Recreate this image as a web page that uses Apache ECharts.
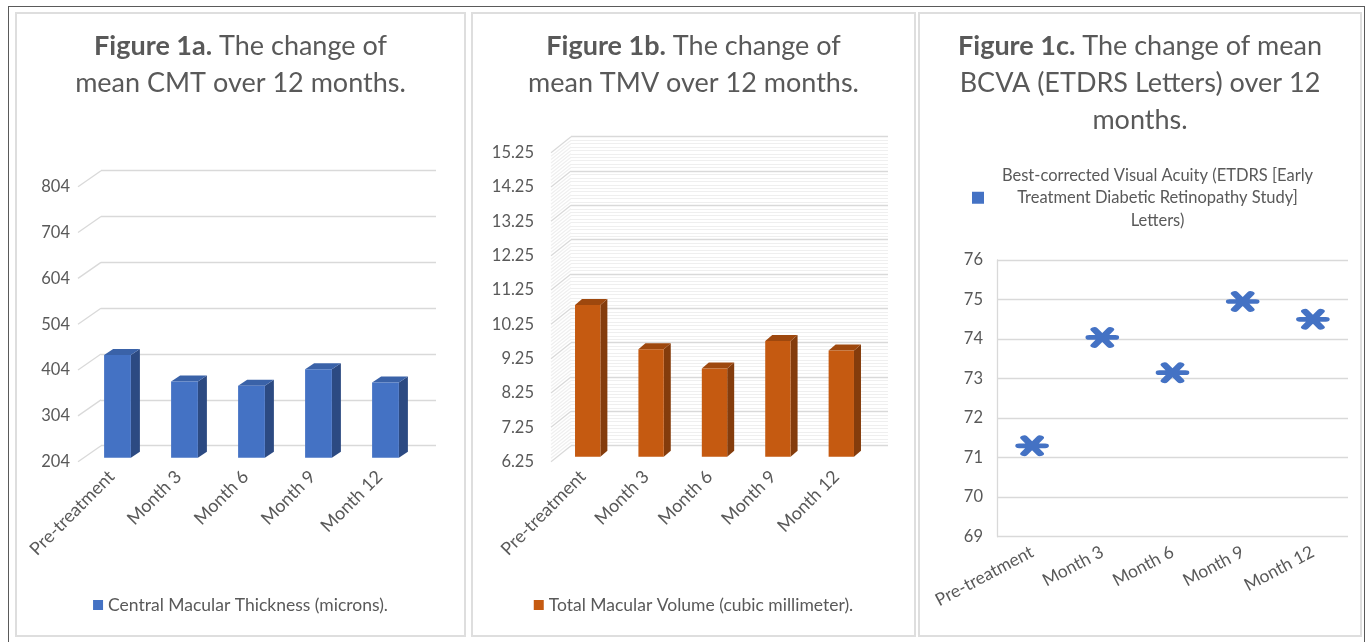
<!DOCTYPE html>
<html>
<head>
<meta charset="utf-8">
<script src="https://cdn.jsdelivr.net/npm/echarts@6/dist/echarts.min.js"></script>
<style>
  html, body { margin: 0; padding: 0; background: #fff; }
  body { width: 1372px; height: 642px; position: relative; overflow: hidden; }
  .frame { position: absolute; left: 8px; top: 6px; width: 1357px; height: 640px; border: 1.5px solid #5a5a5a; box-sizing: border-box; }
  .panel { position: absolute; top: 12px; height: 625px; border: 2px solid #dedede; box-sizing: border-box; }
  .chart { position: absolute; top: 12px; height: 625px; }
</style>
</head>
<body>
<div class="frame"></div>
<div class="panel" style="left:15px;width:451px"></div>
<div class="panel" style="left:471px;width:445px"></div>
<div class="panel" style="left:918px;width:444px"></div>
<div class="chart" id="cmt" style="left:15px;width:451px"></div>
<div class="chart" id="tmv" style="left:471px;width:445px"></div>
<div class="chart" id="bcva" style="left:918px;width:444px"></div>
<script>
// data
var months = ['Pre-treatment', 'Month 3', 'Month 6', 'Month 9', 'Month 12'];
var cmtValues = [428, 370, 361, 397, 368];
var tmvValues = [10.67, 9.38, 8.82, 9.62, 9.34];
var bcvaValues = [71.3, 74.04, 73.15, 74.95, 74.5];
var cmtTicks = [204, 304, 404, 504, 604, 704, 804];
var tmvTicks = [6.25, 7.25, 8.25, 9.25, 10.25, 11.25, 12.25, 13.25, 14.25, 15.25];

var FONT = 'Lato, "Open Sans", sans-serif';
var TXT = '#595959';

function titleOpt(lines) {
    return {
        text: lines,
        left: 'center',
        top: 16,
        padding: 0,
        textStyle: {
            fontFamily: FONT, fontSize: 27, fontWeight: 'normal', color: TXT, lineHeight: 37,
            rich: { b: { fontFamily: FONT, fontSize: 27, fontWeight: 'bold', color: TXT, lineHeight: 37 } }
        }
    };
}

// side wall diagonals (3d look), back wall lines come from the second grid
function wallSeries(ticks, d, minorStep, minorCount, maxV) {
    return {
        type: 'custom',
        silent: true,
        xAxisIndex: 0, yAxisIndex: 0,
        data: ticks.map(function (t) { return [0, t]; }),
        renderItem: function (params, api) {
            var cs = params.coordSys;
            var v = api.value(1);
            var kids = [];
            function diag(val, color) {
                var y = api.coord([0, val])[1];
                kids.push({
                    type: 'polyline',
                    shape: { points: [[cs.x, y], [cs.x + d[0], y + d[1]]] },
                    style: { stroke: color, lineWidth: 1.3, fill: null }
                });
            }
            for (var k = 1; k < minorCount; k++) {
                var mv = v + k * minorStep;
                if (mv < maxV) diag(mv, '#efefef');
            }
            diag(v, '#d9d9d9');
            return { type: 'group', children: kids };
        }
    };
}

var axisMins = {};

function barSeries(name, values, colors, off, depth) {
    return {
        type: 'custom',
        name: name,
        xAxisIndex: 0, yAxisIndex: 0,
        itemStyle: { color: colors[0] },
        data: values.map(function (v, i) { return [i, v]; }),
        renderItem: function (params, api) {
            var top = api.coord([api.value(0), api.value(1)]);
            var yMin = api.coord([api.value(0), axisMins[name]])[1];
            var bw = api.size([1, 0])[0] * 0.4;
            var x0 = top[0] - bw / 2 + off[0];
            var x1 = top[0] + bw / 2 + off[0];
            var yt = top[1] + off[1];
            var yb = yMin + off[1];
            var sx = depth[0], sy = depth[1];
            return {
                type: 'group',
                children: [
                    { type: 'polygon', shape: { points: [[x1, yt], [x1 + sx, yt + sy], [x1 + sx, yb + sy], [x1, yb]] },
                      style: { fill: colors[1] } },
                    { type: 'polygon', shape: { points: [[x0, yt], [x0 + sx, yt + sy], [x1 + sx, yt + sy], [x1, yt]] },
                      style: { fill: colors[2] } },
                    { type: 'rect', shape: { x: x0, y: yt, width: bw, height: yb - yt },
                      style: { fill: colors[0] } }
                ]
            };
        }
    };
}

function bar3dOption(cfg) {
    axisMins[cfg.name] = cfg.min;
    var labelStyle = { fontFamily: FONT, fontSize: 16.5, color: TXT };
    return {
        animation: false,
        title: titleOpt(cfg.title),
        legend: {
            data: [{ name: cfg.name, icon: 'rect' }],
            left: 'center', top: 584, padding: 0,
            itemWidth: 10, itemHeight: 10,
            textStyle: { fontFamily: FONT, fontSize: 17.5, color: TXT }
        },
        grid: [
            { left: cfg.grid[0], top: cfg.grid[1], width: cfg.grid[2], height: cfg.grid[3] },
            { left: cfg.grid[0] + cfg.wall[0], top: cfg.grid[1] + cfg.wall[1], width: cfg.grid[2], height: cfg.grid[3] }
        ],
        xAxis: [
            { type: 'category', gridIndex: 0, data: months,
              axisLine: { show: false }, axisTick: { show: false },
              axisLabel: { rotate: 45, margin: 12, interval: 0, fontFamily: FONT, fontSize: 18, color: TXT } },
            { type: 'category', gridIndex: 1, data: months, show: false }
        ],
        yAxis: [
            { type: 'value', gridIndex: 0, min: cfg.min, max: cfg.max, interval: cfg.interval,
              axisLine: { show: false }, axisTick: { show: false }, splitLine: { show: false },
              axisLabel: Object.assign({ margin: cfg.labelMargin }, labelStyle) },
            { type: 'value', gridIndex: 1, min: cfg.min, max: cfg.max, interval: cfg.interval,
              axisLine: { show: false }, axisTick: { show: false }, axisLabel: { show: false },
              splitLine: { show: true, lineStyle: { color: '#d9d9d9', width: 1.3 } },
              minorTick: { show: false, splitNumber: cfg.minorCount || 5 },
              minorSplitLine: { show: !!cfg.minorCount, lineStyle: { color: '#efefef', width: 1 } } }
        ],
        series: [
            wallSeries(cfg.ticks, cfg.wall, cfg.minorStep || 0, cfg.minorCount || 0, cfg.max),
            barSeries(cfg.name, cfg.values, cfg.colors, cfg.barOff, cfg.depth)
        ]
    };
}

var cmtChart = echarts.init(document.getElementById('cmt'));
cmtChart.setOption(bar3dOption({
    title: '{b|Figure 1a.} The change of\nmean CMT over 12 months.',
    name: 'Central Macular Thickness (microns).',
    values: cmtValues, ticks: cmtTicks,
    min: 204, max: 804, interval: 100,
    grid: [63, 174.7, 335, 275], wall: [23, -16], labelMargin: 8,
    barOff: [6, -4], depth: [9, -6],
    colors: ['#4472C4', '#2C4A82', '#3A62A8']
}));

var tmvChart = echarts.init(document.getElementById('tmv'));
tmvChart.setOption(bar3dOption({
    title: '{b|Figure 1b.} The change of\nmean TMV over 12 months.',
    name: 'Total Macular Volume (cubic millimeter).',
    values: tmvValues, ticks: tmvTicks,
    min: 6.25, max: 15.25, interval: 1,
    grid: [80, 140.7, 317, 309], wall: [20, -16], labelMargin: 17,
    minorStep: 0.1, minorCount: 10,
    barOff: [5, -5], depth: [7, -6],
    colors: ['#C55A11', '#843C0C', '#9E480E']
}));

// asterisk marker
var starPath = 'path://M0,8 L26,8 M5,1 L21,15 M21,1 L5,15';
var bcvaChart = echarts.init(document.getElementById('bcva'));
bcvaChart.setOption({
    animation: false,
    title: titleOpt('{b|Figure 1c.} The change of mean\nBCVA (ETDRS Letters) over 12\nmonths.'),
    legend: {
        data: [{ name: 'bcva', icon: 'rect', itemStyle: { borderWidth: 0 } }],
        left: 54, top: 152, padding: 0,
        itemWidth: 12, itemHeight: 12,
        itemStyle: { borderWidth: 0, color: '#4472C4', opacity: 1 },
        formatter: function () {
            return '{c|Best-corrected Visual Acuity (ETDRS [Early}\n{c|Treatment Diabetic Retinopathy Study]}\n{c|Letters)}';
        },
        textStyle: {
            fontFamily: FONT, fontSize: 16.5, color: TXT, lineHeight: 22.5,
            rich: { c: { fontFamily: FONT, fontSize: 16.5, color: TXT, lineHeight: 22.5, width: 337, align: 'center' } }
        }
    },
    grid: { left: 79, top: 248, width: 351, height: 276.7 },
    xAxis: {
        type: 'category', data: months,
        axisLine: { show: false }, axisTick: { show: false },
        axisLabel: { rotate: 28, margin: 14, interval: 0, fontFamily: FONT, fontSize: 17.5, color: TXT }
    },
    yAxis: {
        type: 'value', min: 69, max: 76, interval: 1,
        axisLine: { show: true, lineStyle: { color: '#d9d9d9', width: 1.3 } },
        axisTick: { show: false },
        splitLine: { lineStyle: { color: '#d9d9d9', width: 1.3 } },
        axisLabel: { margin: 14, fontFamily: FONT, fontSize: 16.5, color: TXT }
    },
    series: [{
        name: 'bcva',
        type: 'scatter',
        data: bcvaValues,
        symbol: starPath,
        symbolSize: [26, 16],
        itemStyle: { color: '#4472C4', borderColor: '#4472C4', borderWidth: 6, borderCap: 'round', opacity: 1 }
    }]
});
</script>
</body>
</html>
